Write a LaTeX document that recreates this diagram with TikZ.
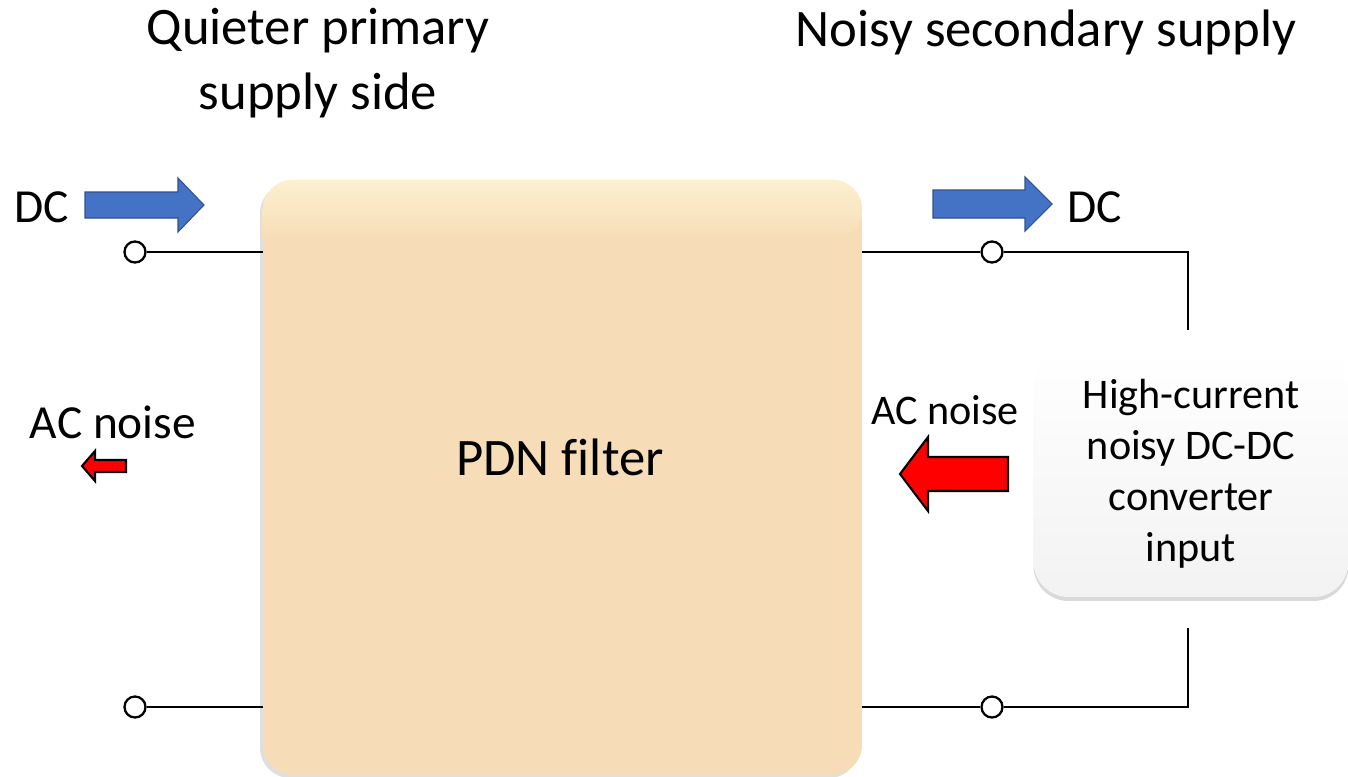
\documentclass[tikz,border=0pt]{standalone}
\usepackage{fontspec}
\setmainfont{Carlito}[Ligatures=NoCommon]
\usetikzlibrary{shadows}

\definecolor{dcblue}{RGB}{68,114,196}
\definecolor{dcedge}{RGB}{47,82,143}
\definecolor{pdnfill}{RGB}{247,221,183}
\definecolor{pdntop}{RGB}{252,240,208}

\tikzset{
  wire/.style={line width=1.3pt},
  term/.style={circle, draw, line width=1.3pt, fill=white, inner sep=0pt, minimum size=0.42cm},
  dcarrow/.style={fill=dcblue, draw=dcedge, line width=0.6pt},
  acarrow/.style={fill=red, draw=black, line width=1.2pt},
  bigtext/.style={font=\fontsize{30}{37}\selectfont, align=center},
  lbltext/.style={font=\fontsize{27}{32}\selectfont},
  boxtext/.style={font=\fontsize{24}{29}\selectfont, align=center},
  pdnbox/.style={rounded corners=0.6cm, fill=pdnfill,
    drop shadow={opacity=0.25, shadow xshift=-0.6mm, shadow yshift=-0.6mm},
    minimum width=11.98cm, minimum height=11.9cm},
  convbox/.style={rounded corners=0.7cm, top color=white, bottom color=gray!10,
    drop shadow={opacity=0.3, shadow xshift=0mm, shadow yshift=-0.8mm},
    minimum width=6.3cm, minimum height=4.94cm, boxtext}
}

\begin{document}
\begin{tikzpicture}[x=0.02cm, y=-0.02cm]
    \useasboundingbox (0,0) rectangle (1348,777);

    % Filtro PDN y convertidor
    \node[pdnbox] (pdn) at (562.5,477.5) {};
    \shade[top color=pdntop, bottom color=pdnfill, rounded corners=0.6cm]
        (pdn.north west) -- (pdn.north east) -- ([yshift=-1.2cm]pdn.north east)
        [sharp corners] -- ([yshift=-1.2cm]pdn.north west) [rounded corners=0.6cm] -- cycle;
    \node[bigtext] (pdnlbl) at (560,457) {PDN filter};
    \node[convbox] (conv) at (1191,473.5) {High-current\\noisy DC-DC\\converter\\input};

    % Terminales
    \node[term] (tl) at (135,252) {};
    \node[term] (bl) at (135,707) {};
    \node[term] (tr) at (992,252) {};
    \node[term] (br) at (992,707) {};
    \coordinate (tc) at (1188,330);
    \coordinate (bc) at (1188,628);

    % Cables
    \draw[wire] (tl) -- (tl -| pdn.west);
    \draw[wire] (bl) -- (bl -| pdn.west);
    \draw[wire] (pdn.east |- tr) -- (tr) -- (tr -| tc) -- (tc);
    \draw[wire] (pdn.east |- br) -- (br) -- (br -| bc) -- (bc);

    % Flechas DC
    \draw[dcarrow] (85,192) -- (178,192) -- (178,178) -- (204,205) -- (178,232) -- (178,218) -- (85,218) -- cycle;
    \draw[dcarrow] (933,190) -- (1025,190) -- (1025,177) -- (1052,204) -- (1025,231) -- (1025,218) -- (933,218) -- cycle;

    % Flechas de ruido AC
    \draw[acarrow] (82,466) -- (95,451) -- (95,460) -- (126,460) -- (126,472) -- (95,472) -- (95,481) -- cycle;
    \draw[acarrow] (900,474) -- (928,437) -- (928,457) -- (1008,457) -- (1008,491) -- (928,491) -- (928,511) -- cycle;

    % Etiquetas
    \node[bigtext] (qtitle) at (318,63) {Quieter primary\\supply side};
    \node[bigtext] (ntitle) at (1046,32) {Noisy secondary supply};
    \node[lbltext] (dcl) at (42,207) {DC};
    \node[lbltext] (dcr) at (1095,207) {DC};
    \node[lbltext] (acl) at (113,422) {AC noise};
    \node[boxtext] (acr) at (945,410) {AC noise};
\end{tikzpicture}
\end{document}
